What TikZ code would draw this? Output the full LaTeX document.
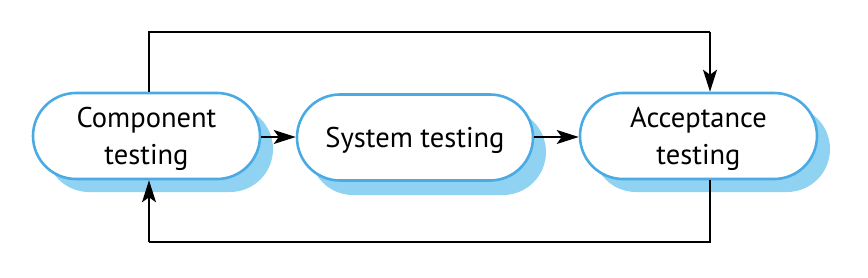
\documentclass[tikz,border=0pt]{standalone}
\usepackage{fontspec}
\setmainfont{PT Sans}
\usetikzlibrary{arrows.meta,shapes.misc}
\definecolor{bordblue}{HTML}{4AAAE4}
\definecolor{shadblue}{HTML}{90D2F2}
\newcommand{\liftfix}{\rule{0pt}{27pt}}
\tikzset{
  stagebox/.style={rounded rectangle, draw=bordblue, line width=2.6pt, fill=white,
    minimum height=86pt, align=center, font=\fontsize{28.5}{37}\selectfont, inner sep=0pt},
  stageshadow/.style={rounded rectangle, fill=shadblue, minimum height=86pt, inner sep=0pt},
  conn/.style={line width=1.2pt, -{Stealth[length=22pt,width=14pt,inset=5pt]}},
  plainline/.style={line width=1.2pt}
}
\begin{document}
\begin{tikzpicture}[x=1pt,y=-1pt]
\useasboundingbox (0,0) rectangle (868,278);
% shadows
\node[stageshadow, minimum width=227pt] (cs) at (159.5,149) {};
\node[stageshadow, minimum width=236pt] (ss) at (428,152) {};
\node[stageshadow, minimum width=237pt] (as) at (711.5,149) {};
% boxes
\node[stagebox, minimum width=227pt] (c) at (146.5,136) {\liftfix Component\\testing};
\node[stagebox, minimum width=236pt] (s) at (415,137.5) {\liftfix System testing};
\node[stagebox, minimum width=237pt] (a) at (698.5,136) {\liftfix Acceptance\\testing};
% coordinates
\coordinate (tl) at (149,32);
\coordinate (tr) at (710,32);
\coordinate (bl) at (149,242);
\coordinate (br) at (710,242);
% connectors
\draw[conn] (c.east |- 0,137) -- (s.west |- 0,137);
\draw[conn] (s.east |- 0,137) -- (a.west |- 0,137);
\draw[plainline] (tl |- c.north) -- (tl) -- (tr);
\draw[conn] (tr) -- (tr |- a.north);
\draw[plainline] (br |- a.south) -- (br) -- (bl);
\draw[conn] (bl) -- (bl |- c.south);
\end{tikzpicture}
\end{document}
